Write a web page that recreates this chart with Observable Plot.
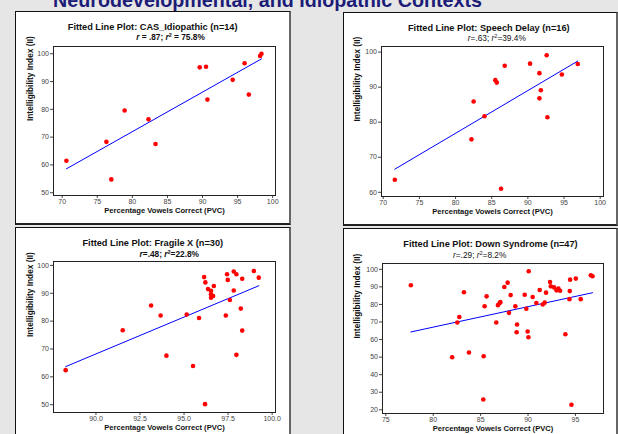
<!DOCTYPE html>
<html>
<head>
<meta charset="utf-8">
<script src="https://cdn.jsdelivr.net/npm/d3@7"></script>
<script src="https://cdn.jsdelivr.net/npm/@observablehq/plot@0.6"></script>
<style>
  html, body { margin: 0; padding: 0; }
  body { width: 618px; height: 434px; background: #e6e6e6; position: relative; overflow: hidden; font-family: "Liberation Sans", Arial, sans-serif; }
  .main-title { position: absolute; left: -41.5px; width: 618px; top: -8.8px; text-align: center; font: bold 19.7px/19.7px "Liberation Sans", Arial, sans-serif; color: #1c1c78; white-space: nowrap; }
  .panel { position: absolute; box-sizing: border-box; background: #fff; border-left: 1px solid #111; border-top: 1px solid #111; border-right: 2px solid #666; border-bottom: 2px solid #222; }
  .panel svg { position: absolute; left: 0; top: 0; }
  .ptitle, .psub { position: absolute; width: 300px; text-align: center; white-space: nowrap; color: #111; }
  .ptitle { font: bold 9.2px/8px "Liberation Sans", Arial, sans-serif; }
  .psub { font: 8.3px/8px "Liberation Sans", Arial, sans-serif; }
  .psub.b { font-weight: bold; }
  .psub sup { font-size: 5.5px; vertical-align: 3px; line-height: 0; }
</style>
</head>
<body>
<div class="main-title">Neurodevelopmental, and Idiopathic Contexts</div>
<script>
// ---- Data ----
// CAS_Idiopathic (n=14)
const casPVC = [70.6, 76.3, 77.0, 78.9, 82.3, 83.3, 89.6, 90.5, 90.7, 94.3, 96.0, 96.6, 98.2, 98.4];
const casII  = [61.5, 68.3, 54.8, 79.6, 76.4, 67.5, 95.1, 95.3, 83.5, 90.6, 96.6, 85.3, 99.2, 100.0];
// Speech Delay (n=16)
const sdPVC = [71.6, 82.2, 82.5, 84.0, 85.5, 85.7, 86.3, 86.8, 90.3, 91.6, 91.6, 91.8, 92.6, 92.7, 94.7, 96.9];
const sdII  = [63.6, 75.1, 85.9, 81.7, 92.0, 91.3, 61.0, 96.1, 96.7, 86.8, 94.0, 89.1, 99.1, 81.4, 93.6, 96.6];
// Fragile X (n=30)
const fxPVC = [88.28, 91.52, 93.13, 93.67, 94.0, 95.15, 95.51, 95.85, 96.14, 96.21, 96.19, 96.36, 96.53, 96.53, 96.53,
               96.65, 96.69, 97.37, 97.44, 97.48, 97.6, 97.82, 97.82, 97.97, 97.97, 98.22, 98.3, 98.3, 98.96, 99.24];
const fxII  = [62.4, 76.7, 85.6, 82.0, 67.6, 82.4, 63.9, 81.1, 95.8, 93.9, 50.2, 91.5, 90.9, 89.6, 88.4,
               89.0, 92.6, 82.0, 96.8, 94.8, 87.6, 97.8, 91.0, 96.8, 67.9, 84.5, 95.2, 76.6, 98.0, 95.6];
// Down Syndrome (n=47)
const dsPVC = [77.64, 82.0, 82.54, 82.75, 83.24, 83.77, 85.28, 85.32, 85.42, 85.63, 86.65, 86.83, 87.0, 87.08, 87.5, 87.85,
               87.99, 88.17, 88.66, 88.84, 88.8, 89.65, 89.82, 89.96, 90.04, 90.07, 90.49, 90.88, 91.23, 91.55, 91.76, 91.9,
               92.32, 92.4, 92.75, 93.0, 93.2, 93.38, 93.94, 94.37, 94.4, 94.44, 94.58, 95.04, 95.56, 96.62, 96.8];
const dsII  = [90.9, 49.9, 69.7, 72.8, 86.9, 52.6, 25.9, 50.5, 79.0, 84.6, 69.7, 79.6, 80.8, 81.3, 89.9, 92.4,
               75.2, 85.3, 78.9, 68.6, 64.2, 85.5, 77.5, 64.6, 61.3, 98.9, 84.2, 80.8, 88.2, 80.0, 81.0, 86.7,
               92.8, 90.3, 89.7, 88.0, 89.0, 87.8, 63.0, 83.0, 87.6, 94.1, 22.9, 94.7, 83.0, 96.6, 96.0];

// Tick labels
const ticksX1 = [70, 75, 80, 85, 90, 95, 100];
const ticksY1 = [50, 60, 70, 80, 90, 100];
const ticksX2 = [70, 75, 80, 85, 90, 95, 100];
const ticksY2 = [60, 70, 80, 90, 100];
const ticksX3 = [90, 92.5, 95, 97.5, 100];
const ticksY3 = [50, 60, 70, 80, 90, 100];
const ticksX4 = [75, 80, 85, 90, 95];
const ticksY4 = [20, 30, 40, 50, 60, 70, 80, 90, 100];

// Titles
const titles = [
  "Fitted Line Plot: CAS_Idiopathic (n=14)",
  "Fitted Line Plot: Speech Delay (n=16)",
  "Fitted Line Plot: Fragile X (n=30)",
  "Fitted Line Plot: Down Syndrome (n=47)"
];
const subtitles = [
  "<i>r</i> = .87; <i>r</i><sup>2</sup> = 75.8%",
  "<i>r</i>=.63; <i>r</i><sup>2</sup>=39.4%",
  "<i>r</i>=.48; <i>r</i><sup>2</sup>=22.8%",
  "<i>r</i>=.29; <i>r</i><sup>2</sup>=8.2%"
];
const xLabel = "Percentage Vowels Correct (PVC)";
const yLabel = "Intelligibility Index (II)";

// ---- Layout ----
const panels = [
  {xs: casPVC, ys: casII, left: 15, top: 11, w: 276, h: 214, ml: 37, mr: 14, mt: 34, mb: 28,
   xd: [68.76, 100.4], yd: [49.0, 102.6], xt: ticksX1, yt: ticksY1, xf: d3.format("d"),
   tc: [152.7, 26.7], sc: [170.5, 36.5], sb: true, xdy: 17, ydx: -23},
  {xs: sdPVC, ys: sdII, left: 343, top: 12, w: 275, h: 214, ml: 37, mr: 13, mt: 33, mb: 28,
   xd: [69.76, 100.46], yd: [58.8, 101.6], xt: ticksX2, yt: ticksY2, xf: d3.format("d"),
   tc: [488.8, 28.3], sc: [496.8, 37.8], sb: false, xdy: 17, ydx: -24},
  {xs: fxPVC, ys: fxII, left: 15, top: 227, w: 276, h: 214, ml: 37, mr: 14, mt: 33, mb: 27,
   xd: [87.59, 100.19], yd: [47.2, 101.4], xt: ticksX3, yt: ticksY3, xf: d3.format(".1f"),
   tc: [152.8, 243.3], sc: [169.3, 253.8], sb: true, xdy: 17, ydx: -23},
  {xs: dsPVC, ys: dsII, left: 343, top: 228, w: 275, h: 214, ml: 38, mr: 13, mt: 34, mb: 27,
   xd: [74.65, 97.96], yd: [17.9, 103.3], xt: ticksX4, yt: ticksY4, xf: d3.format("d"),
   tc: [490.5, 244], sc: [479.7, 254.8], sb: false, xdy: 17, ydx: -25}
];

panels.forEach((p, i) => {
  const div = document.createElement("div");
  div.className = "panel";
  Object.assign(div.style, {left: p.left + "px", top: p.top + "px", width: p.w + "px", height: p.h + "px"});
  document.body.appendChild(div);

  const data = p.xs.map((x, j) => ({x, y: p.ys[j]}));
  const chart = Plot.plot({
    width: p.w - 3,
    height: p.h - 3,
    marginLeft: p.ml, marginRight: p.mr, marginTop: p.mt, marginBottom: p.mb,
    style: {fontSize: "7px", fontFamily: "'Liberation Sans', Arial, sans-serif", color: "#444", background: "transparent"},
    x: {domain: p.xd, ticks: p.xt, tickFormat: p.xf, tickSize: 3, tickPadding: 1, label: null},
    y: {domain: p.yd, ticks: p.yt, tickFormat: d3.format("d"), tickSize: 3, tickPadding: 1.5, label: null},
    marks: [
      Plot.frame({stroke: "#222", strokeWidth: 1}),
      Plot.linearRegressionY(data, {x: "x", y: "y", ci: 0, stroke: "#0000ff", strokeWidth: 1}),
      Plot.dot(data, {x: "x", y: "y", r: 2.3, fill: "#ff0000", stroke: "none"}),
      Plot.text([xLabel], {text: d => d, frameAnchor: "bottom", dy: p.xdy, fontWeight: "bold", fontSize: 7.6, fill: "#111"}),
      Plot.text([yLabel], {text: d => d, frameAnchor: "left", dx: p.ydx, rotate: -90, fontWeight: "bold", fontSize: 8.3, fill: "#111"})
    ]
  });
  div.appendChild(chart);

  const t = document.createElement("div");
  t.className = "ptitle";
  t.textContent = titles[i];
  Object.assign(t.style, {left: (p.tc[0] - 150) + "px", top: (p.tc[1] - 4) + "px"});
  document.body.appendChild(t);

  const s = document.createElement("div");
  s.className = "psub" + (p.sb ? " b" : "");
  s.innerHTML = subtitles[i];
  Object.assign(s.style, {left: (p.sc[0] - 150) + "px", top: (p.sc[1] - 4) + "px"});
  document.body.appendChild(s);
});
</script>
</body>
</html>
